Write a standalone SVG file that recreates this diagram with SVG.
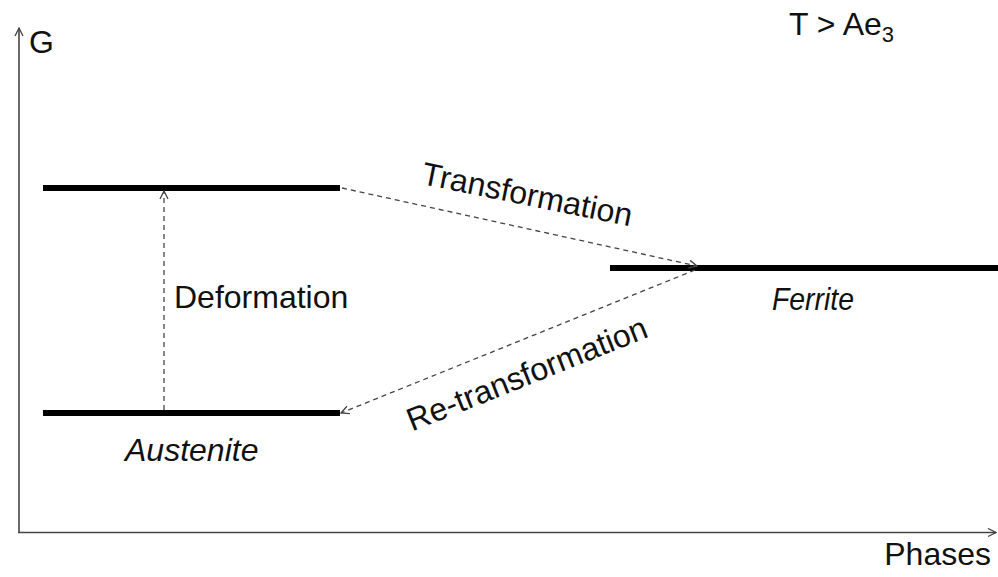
<svg xmlns="http://www.w3.org/2000/svg" width="998" height="577" viewBox="0 0 998 577">
<style>
.t{font-family:"Liberation Sans",Arial,sans-serif;font-size:32px;fill:#111}
.it{font-style:italic}
.axis{stroke:#444;stroke-width:1.6;fill:none}
.lvl{stroke:#000;stroke-width:6;fill:none}
.dash{stroke:#444;stroke-width:1.3;stroke-dasharray:5,4;fill:none}
</style>
<defs>
<marker id="ah" viewBox="0 0 10 10" refX="9" refY="5" markerWidth="10" markerHeight="10" markerUnits="userSpaceOnUse" orient="auto">
<path d="M1,1 L9,5 L1,9" fill="none" stroke="#444" stroke-width="1.3"/>
</marker>
</defs>
<g id="axes">
<line class="axis" x1="19" y1="532.5" x2="19" y2="28" marker-end="url(#ah)"/>
<line class="axis" x1="18" y1="532.5" x2="996" y2="532.5" marker-end="url(#ah)"/>
<text class="t" x="29" y="53">G</text>
<text class="t" x="991" y="565" font-size="28" text-anchor="end">Phases</text>
<text class="t" x="789" y="35">T &gt; Ae<tspan font-size="22" dy="7">3</tspan></text>
</g>
<g id="austenite-deformed">
<line class="lvl" x1="43" y1="188" x2="340" y2="188"/>
</g>
<g id="austenite">
<line class="lvl" x1="43" y1="413" x2="340" y2="413"/>
<text class="t it" x="125" y="461">Austenite</text>
</g>
<g id="ferrite">
<line class="lvl" x1="610" y1="268" x2="998" y2="268"/>
<text class="t it" x="772" y="310" textLength="82" lengthAdjust="spacingAndGlyphs">Ferrite</text>
</g>
<g id="connectors">
<line class="dash" x1="164" y1="410" x2="164" y2="191" marker-end="url(#ah)"/>
<line class="dash" x1="342" y1="188" x2="697" y2="266" marker-end="url(#ah)"/>
<line class="dash" x1="695" y1="270" x2="341" y2="413" marker-end="url(#ah)"/>
<text class="t" x="174" y="308" font-size="33">Deformation</text>
<text class="t" transform="translate(525,205) rotate(11.5)" text-anchor="middle">Transformation</text>
<text class="t" transform="translate(531,384) rotate(-21.8)" text-anchor="middle">Re-transformation</text>
</g>
</svg>
